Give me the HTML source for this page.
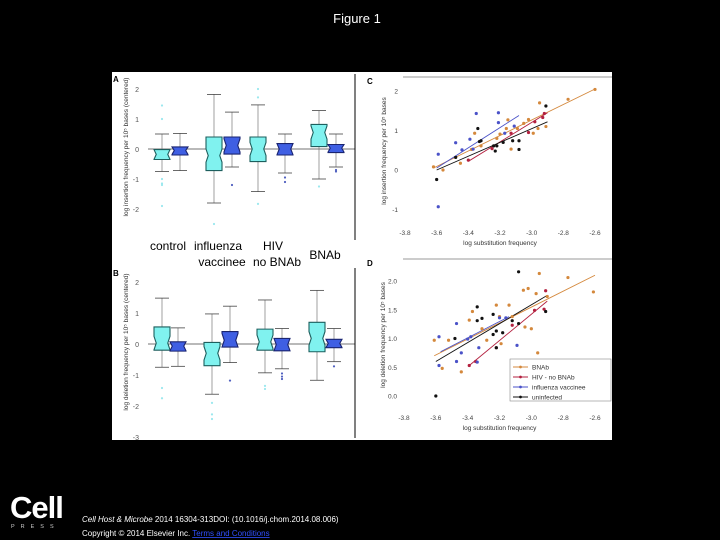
<!DOCTYPE html>
<html><head><meta charset="utf-8"><style>
html,body{margin:0;padding:0;background:#000;}
svg{display:block;font-family:"Liberation Sans",sans-serif;}
</style></head><body>
<svg id="fig" width="720" height="540" viewBox="0 0 720 540" xmlns="http://www.w3.org/2000/svg">
<rect x="0" y="0" width="720" height="540" fill="#000"/>
<text x="357" y="23" fill="#fff" font-size="13" text-anchor="middle">Figure 1</text>
<rect x="112" y="72" width="500" height="368" fill="#fff"/>
<g id="layer"></g>
<g>
<text x="10" y="518" fill="#fff" font-size="31" font-weight="bold" letter-spacing="-1">Cell</text>
<text x="11" y="528" fill="#ccc" font-size="5.5" letter-spacing="6">PRESS</text>
</g>
<text x="82" y="522" fill="#fff" font-size="8"><tspan font-style="italic">Cell Host &amp; Microbe</tspan> 2014 16304-313DOI: (10.1016/j.chom.2014.08.006)</text>
<text x="82" y="536" fill="#fff" font-size="8">Copyright © 2014 Elsevier Inc. <tspan fill="#3050ff" text-decoration="underline">Terms and Conditions</tspan></text>
</svg>
<script>
// ---------- Box plot data (A: insertion, B: deletion) ----------
const groups = ["control","influenza","HIV","BNAb"];
// [whiskerLow, q1, median, q3, whiskerHigh]
const boxA_cyan = [[-0.75,-0.35,-0.18,-0.02,0.5],[-1.8,-0.72,-0.22,0.4,1.82],[-1.42,-0.42,0,0.4,1.47],[-1.0,0.08,0.55,0.82,1.28]];
const boxA_blue = [[-0.72,-0.2,-0.05,0.07,0.52],[-0.6,-0.17,0.12,0.4,1.23],[-0.8,-0.2,0,0.18,0.5],[-0.6,-0.12,0.03,0.15,0.5]];
const outA_cyan = [[1.45,1.0,-1.0,-1.15,-1.2,-1.9],[-2.5],[2.0,1.72,-1.83],[-1.25]];
const outA_blue = [[],[-1.2],[-0.95,-1.1],[-0.7,-0.75]];
const boxB_cyan = [[-0.75,-0.2,0.03,0.55,1.48],[-1.62,-0.7,-0.3,0.05,0.97],[-0.93,-0.2,0.07,0.48,1.42],[-1.17,-0.25,0.18,0.7,1.73]];
const boxB_blue = [[-0.72,-0.23,-0.07,0.07,0.52],[-0.6,-0.1,0.12,0.4,1.22],[-0.8,-0.22,-0.02,0.18,0.5],[-0.57,-0.12,0.02,0.15,0.5]];
const outB_cyan = [[-1.42,-1.75],[-1.9,-2.27,-2.42],[-1.35,-1.45],[]];
const outB_blue = [[],[-1.18],[-0.95,-1.05,-1.13],[-0.72]];
const boxTicks = [2,1,0,-1,-2];
const boxTicksB = [2,1,0,-1,-2,-3];

// ---------- Scatter data (C: insertion, D: deletion) ----------
const seriesNames = ["BNAb","HIV - no BNAb","influenza vaccinee","uninfected"];
const C_bnab_x = [-3.62,-3.56,-3.45,-3.38,-3.36,-3.32,-3.22,-3.2,-3.16,-3.13,-3.15,-3.05,-3.02,-2.99,-2.96,-2.95,-2.91,-2.77,-2.6,-3.09];
const C_bnab_y = [0.08,0,0.17,0.52,0.93,0.61,0.8,0.91,1.05,0.53,1.27,1.18,1.28,0.93,1.05,1.7,1.1,1.79,2.04,1.05];
const C_hiv_x = [-3.4,-3.25,-3.13,-3.02,-2.98,-2.92,-2.93];
const C_hiv_y = [0.25,0.54,0.93,0.95,1.22,1.43,1.33];
const C_flu_x = [-3.59,-3.59,-3.48,-3.44,-3.39,-3.35,-3.21,-3.21,-3.37,-3.11,-3.17];
const C_flu_y = [0.4,-0.93,0.69,0.51,0.78,1.43,1.45,1.2,0.53,1.11,0.93];
const C_un_x = [-3.6,-3.48,-3.34,-3.33,-3.32,-3.24,-3.23,-3.22,-3.18,-3.12,-3.08,-3.08,-2.91];
const C_un_y = [-0.24,0.32,1.05,0.72,0.74,0.61,0.48,0.61,0.7,0.74,0.74,0.52,1.62];
// fit lines [x1,y1,x2,y2]
const C_fits = [[-3.62,0.05,-2.6,2.05],[-3.4,0.22,-2.9,1.45],[-3.6,0.05,-3.08,1.38],[-3.6,0.0,-2.9,1.22]];

const D_bnab_x = [-3.61,-3.56,-3.52,-3.44,-3.39,-3.37,-3.31,-3.28,-3.22,-3.2,-3.19,-3.14,-3.12,-3.05,-3.02,-3.04,-3.0,-2.97,-2.95,-2.9,-2.96,-2.77,-2.61];
const D_bnab_y = [0.97,0.48,0.97,0.42,1.32,1.47,1.17,0.97,1.58,1.38,0.91,1.58,1.38,1.84,1.87,1.2,1.17,1.78,2.13,1.73,0.75,2.06,1.81];
const D_hiv_x = [-3.39,-3.35,-3.22,-3.12,-2.98,-2.91,-2.92];
const D_hiv_y = [0.53,0.6,0.84,1.23,1.49,1.83,1.51];
const D_flu_x = [-3.58,-3.58,-3.47,-3.47,-3.44,-3.4,-3.38,-3.33,-3.34,-3.2,-3.16,-3.09];
const D_flu_y = [1.03,0.53,1.26,0.6,0.75,0.99,1.03,0.84,0.59,1.36,1.36,0.88];
const D_un_x = [-3.6,-3.48,-3.34,-3.34,-3.31,-3.24,-3.24,-3.22,-3.22,-3.18,-3.12,-3.08,-3.08,-2.91];
const D_un_y = [0,1.0,1.55,1.31,1.35,1.42,1.07,1.13,0.84,1.1,1.31,2.16,1.26,1.47];
const D_fits = [[-3.61,0.7,-2.6,2.1],[-3.39,0.53,-2.9,1.65],[-3.57,0.77,-3.14,1.38],[-3.6,0.6,-2.9,1.75]];

const xTicks = [-3.8,-3.6,-3.4,-3.2,-3.0,-2.8,-2.6];
const cTicksY = [2,1,0,-1];
const dTicksY = [0.0,0.5,1.0,1.5,2.0];

// ---------- drawing ----------
const NS = "http://www.w3.org/2000/svg";
const layer = document.getElementById("layer");
function mk(tag, attrs, parent){ const e=document.createElementNS(NS,tag); for(const k in attrs) e.setAttribute(k,attrs[k]); (parent||layer).appendChild(e); return e; }
function txt(s, attrs, parent){ const e=mk("text",attrs,parent); e.textContent=s; return e; }

const cyanFill="#80f2ef", cyanStroke="#1d5f5e", blueFill="#3f5fe3", blueStroke="#1a2470";
const colors=["#d4883c","#b3203f","#4a52c8","#111"];

function boxPanel(name, letter, zeroY, ppu, ticks, cyan, blue, outC, outB, cxs, bxs, yTitle, lineTop, lineBot){
  const g=mk("g",{});
  
  
  const y=v=>zeroY - v*ppu;
  txt(letter,{x:113,y:lineTop+8,"font-size":8,"font-weight":"bold",fill:"#000"},g);
  mk("line",{x1:148,x2:355,y1:zeroY,y2:zeroY,stroke:"#444","stroke-width":0.8},g);
  mk("line",{x1:355,x2:355,y1:lineTop,y2:lineBot,stroke:"#000","stroke-width":1},g);
  ticks.forEach(t=>{ txt(String(t),{x:139,y:y(t)+3,"font-size":7,fill:"#555","text-anchor":"end"},g); });
  txt(yTitle,{x:0,y:0,"font-size":6.5,fill:"#333","text-anchor":"middle",transform:`translate(128,${zeroY-2}) rotate(-90)`},g);
  function drawBox(st, x0, w, fill, stroke, outs, outColor){
    const bg=mk("g",{},g);
    
    
    const cx=x0+w/2;
    mk("line",{x1:cx,x2:cx,y1:y(st[0]),y2:y(st[1]),stroke:"#777","stroke-width":0.7},bg);
    mk("line",{x1:cx,x2:cx,y1:y(st[3]),y2:y(st[4]),stroke:"#777","stroke-width":0.7},bg);
    mk("line",{x1:x0+1,x2:x0+w-1,y1:y(st[0]),y2:y(st[0]),stroke:"#444","stroke-width":0.8},bg);
    mk("line",{x1:x0+1,x2:x0+w-1,y1:y(st[4]),y2:y(st[4]),stroke:"#444","stroke-width":0.8},bg);
    const n=Math.min(0.22,(st[3]-st[1])/2), ni=w*0.14;
    const pts=[[x0,y(st[3])],[x0+w,y(st[3])],[x0+w,y(Math.min(st[3],st[2]+n))],[x0+w-ni,y(st[2])],[x0+w,y(Math.max(st[1],st[2]-n))],[x0+w,y(st[1])],[x0,y(st[1])],[x0,y(Math.max(st[1],st[2]-n))],[x0+ni,y(st[2])],[x0,y(Math.min(st[3],st[2]+n))]];
    mk("polygon",{points:pts.map(p=>p.join(",")).join(" "),fill:fill,stroke:stroke,"stroke-width":1.1},bg);
    outs.forEach(o=>{ const c=mk("circle",{cx:cx,cy:y(o),r:1.1,fill:outColor},bg);
        });
  }
  groups.forEach((gname,i)=>{
    drawBox(cyan[i], cxs[i], 16, cyanFill, cyanStroke, outC[i], "#9be8ee");
    drawBox(blue[i], bxs[i], 16, blueFill, blueStroke, outB[i], "#5060c0");
  });
}

boxPanel("panel-a-insertion-boxplot","A",149,30,boxTicks,boxA_cyan,boxA_blue,outA_cyan,outA_blue,[154,206,250,311],[172,224,277,328],"log insertion frequency per 10\u2075 bases (centered)",74,240);
boxPanel("panel-b-deletion-boxplot","B",344,31,boxTicksB,boxB_cyan,boxB_blue,outB_cyan,outB_blue,[154,204,257,309],[170,222,274,326],"log deletion frequency per 10\u2075 bases (centered)",268,438);

// category labels
[["control",168,250],["influenza",218,250],["vaccinee",222,266],["HIV",273,250],["no BNAb",277,266],["BNAb",325,259]].forEach(l=>{
  const t=txt(l[0],{x:l[1],y:l[2],"font-size":12,fill:"#000","text-anchor":"middle"});
  
  
});

function scatterPanel(name, letter, x0px, x1px, zeroY, ppu, yticks, fmt, sets, fits, yTitle, tickY, titleY, plotTop, plotBot, legend){
  const g=mk("g",{});
  
  
  const sx=v=>x0px+(v+3.8)/1.2*(x1px-x0px);
  const sy=v=>zeroY - v*ppu;
  txt(letter,{x:367,y:plotTop+4,"font-size":8,"font-weight":"bold",fill:"#000"},g);
  xTicks.forEach(t=>{ txt(t.toFixed(1),{x:sx(t),y:tickY,"font-size":6.5,fill:"#444","text-anchor":"middle"},g); });
  yticks.forEach(t=>{ txt(fmt(t),{x:x0px-7,y:sy(t)+2.5,"font-size":6.5,fill:"#444","text-anchor":"end"},g); });
  txt("log substitution frequency",{x:(x0px+x1px)/2,y:titleY,"font-size":6.5,fill:"#333","text-anchor":"middle"},g);
  txt(yTitle,{x:0,y:0,"font-size":6.5,fill:"#333","text-anchor":"middle",transform:`translate(${x0px-19},${(plotTop+plotBot)/2}) rotate(-90)`},g);
  fits.forEach((f,i)=>{ const l=mk("line",{x1:sx(f[0]),y1:sy(f[1]),x2:sx(f[2]),y2:sy(f[3]),stroke:colors[i],"stroke-width":0.9},g);
      });
  sets.forEach((s,i)=>{ s[0].forEach((xv,j)=>{ const c=mk("circle",{cx:sx(xv),cy:sy(s[1][j]),r:1.6,fill:colors[i]},g);
      }); });
  if(legend){
    const lg=mk("g",{},g);
     
    mk("rect",{x:510,y:359,width:101,height:42,fill:"#fff",stroke:"#888","stroke-width":0.6},lg);
    seriesNames.forEach((n,i)=>{ const yy=367+i*10;
      const e=mk("g",{},lg);  
      mk("line",{x1:513,x2:528,y1:yy,y2:yy,stroke:colors[i],"stroke-width":1},e);
      mk("circle",{cx:520.5,cy:yy,r:1.4,fill:colors[i]},e);
      txt(n,{x:532,y:yy+2.5,"font-size":6.5,fill:"#333"},e); });
  }
}
mk("line",{x1:403,x2:612,y1:77,y2:77,stroke:"#999","stroke-width":1});
mk("line",{x1:403,x2:612,y1:259,y2:259,stroke:"#999","stroke-width":1});
scatterPanel("panel-c-insertion-scatter","C",405,595,170,39.5,cTicksY,t=>String(t),
  [[C_bnab_x,C_bnab_y],[C_hiv_x,C_hiv_y],[C_flu_x,C_flu_y],[C_un_x,C_un_y]],C_fits,
  "log insertion frequency per 10\u2075 bases",235,245,80,222,false);
scatterPanel("panel-d-deletion-scatter","D",404,595,396,57.5,dTicksY,t=>t.toFixed(1),
  [[D_bnab_x,D_bnab_y],[D_hiv_x,D_hiv_y],[D_flu_x,D_flu_y],[D_un_x,D_un_y]],D_fits,
  "log deletion frequency per 10\u2075 bases",420,430,262,408,true);
</script>
</body></html>
